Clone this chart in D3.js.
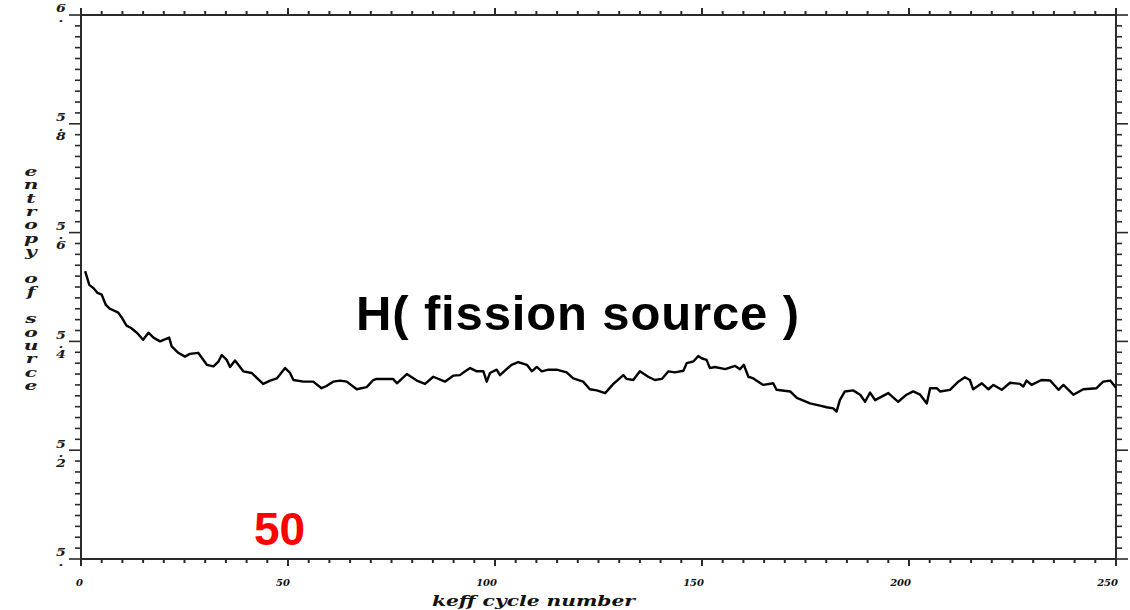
<!DOCTYPE html>
<html><head><meta charset="utf-8">
<script src="https://cdn.jsdelivr.net/npm/d3@7"></script>
<style>html,body{margin:0;padding:0;background:#fff;}</style>
</head><body>
<svg id="chart" width="1130" height="610"></svg>
<script>
// ---- data ----
const cycles = [1,2,3,4,5,6,7,9,10,11,12,13.5,15,16.3,17.5,19.1,21.3,21.9,23.5,25.1,26.3,28.3,30.4,32,33.2,34,35.2,36,37.2,39.2,41.2,44,45.7,47.3,49.3,50.5,51.3,53.7,56.1,58.1,59.3,60.9,62.6,64.2,66.6,69,70.6,71.4,75.4,76.3,78.7,81.1,83.1,85.1,87.9,89.9,91.5,92.8,94,95.6,97.2,98,98.8,100.4,101.2,102.8,104,105.6,107.7,108.9,110.1,111.3,112.9,114.9,117.3,118.9,121.3,122.9,124.6,126.6,128.6,131,131.8,133.4,135,137,138.6,140.3,141.9,143.5,145.5,146.3,147.9,149.1,149.9,151.1,151.9,153.1,155.6,158,159.2,160.1,161.2,162.4,164.8,167.2,168,171.3,172.9,176.1,178.5,180.1,181.7,182.5,183.3,184.5,186.5,188.2,189.4,190.6,191.8,195,197.4,199.4,201,202.7,204.3,205.1,206.7,207.5,209.9,211.9,213.5,214.7,215.5,217.6,219.2,220.4,222.4,224.4,226.8,227.6,228.4,229.6,232,234.1,236.1,237.3,239.7,242.1,245.3,246.9,248.6,250];
const entropy = [5.529,5.504,5.498,5.489,5.486,5.467,5.460,5.453,5.442,5.429,5.425,5.416,5.403,5.416,5.407,5.400,5.407,5.391,5.379,5.372,5.377,5.379,5.357,5.354,5.363,5.375,5.366,5.353,5.365,5.345,5.342,5.322,5.328,5.332,5.351,5.342,5.329,5.326,5.326,5.314,5.318,5.326,5.328,5.326,5.312,5.316,5.329,5.331,5.331,5.323,5.340,5.328,5.322,5.335,5.326,5.337,5.338,5.345,5.351,5.345,5.345,5.326,5.342,5.348,5.338,5.349,5.357,5.362,5.357,5.345,5.353,5.345,5.348,5.348,5.343,5.332,5.326,5.312,5.310,5.305,5.322,5.338,5.331,5.329,5.345,5.335,5.329,5.331,5.345,5.343,5.346,5.360,5.363,5.373,5.369,5.366,5.351,5.353,5.349,5.355,5.349,5.357,5.335,5.332,5.320,5.323,5.311,5.308,5.296,5.286,5.282,5.279,5.277,5.271,5.292,5.308,5.310,5.302,5.289,5.306,5.292,5.305,5.289,5.302,5.308,5.302,5.286,5.314,5.314,5.308,5.311,5.326,5.334,5.329,5.312,5.323,5.312,5.320,5.311,5.324,5.322,5.317,5.328,5.320,5.329,5.328,5.311,5.320,5.302,5.312,5.314,5.326,5.328,5.315];
const xTickLabels = ["0","50","100","150","200","250"];
const yTickLabels = ["5.","5.2","5.4","5.6","5.8","6."];
const yTickValues = [5,5.2,5.4,5.6,5.8,6];
const xTickValues = [0,50,100,150,200,250];
const yTitle = "entropy of source";
const xTitle = "keff cycle number";
const annotation = "H( fission source )";
const redLabel = "50";

// ---- layout ----
const L = 81, R = 1116, T = 15, B = 559;
const svg = d3.select("#chart");
const x = d3.scaleLinear().domain([0,250]).range([L,R]);
const y = d3.scaleLinear().domain([5,6]).range([B,T]);
const axisColor = "#2a2a2a";
const serif = "'DejaVu Serif', 'Liberation Serif', serif";

const xMinor = d3.range(0,251,5);
const yMinor = d3.range(0,51).map(i => 5 + i*0.02);
function isMajorX(v){ return Math.abs(v/50 - Math.round(v/50)) < 1e-6; }
function isMajorY(v){ return Math.abs((v-5)/0.2 - Math.round((v-5)/0.2)) < 1e-6; }

const g = svg.append("g");
g.append("rect").attr("x",L).attr("y",T).attr("width",R-L).attr("height",B-T)
  .attr("fill","none").attr("stroke",axisColor).attr("stroke-width",2);

g.selectAll(".bt").data(xMinor).enter().append("line")
  .attr("x1",d=>x(d)).attr("x2",d=>x(d)).attr("y1",B).attr("y2",d=>B+(isMajorX(d)?7:4))
  .attr("stroke",axisColor).attr("stroke-width",2);
g.selectAll(".tt").data(xMinor).enter().append("line")
  .attr("x1",d=>x(d)).attr("x2",d=>x(d)).attr("y1",T).attr("y2",d=>T-(isMajorX(d)?7:4))
  .attr("stroke",axisColor).attr("stroke-width",2);
g.selectAll(".lt").data(yMinor).enter().append("line")
  .attr("y1",d=>y(d)).attr("y2",d=>y(d)).attr("x1",L).attr("x2",d=>L-(isMajorY(d)?12:6))
  .attr("stroke",axisColor).attr("stroke-width",1.6);
g.selectAll(".rt").data(yMinor).enter().append("line")
  .attr("y1",d=>y(d)).attr("y2",d=>y(d)).attr("x1",R).attr("x2",d=>R+(isMajorY(d)?12:6))
  .attr("stroke",axisColor).attr("stroke-width",1.6);

g.selectAll(".xl").data(xTickValues).enter().append("text")
  .attr("x",d=>x(d)+2).attr("y",586)
  .attr("text-anchor","end")
  .attr("font-family",serif).attr("font-style","italic").attr("font-weight","bold")
  .attr("font-size",10).attr("fill","#111")
  .text((d,i)=>xTickLabels[i]);

// stacked vertical text: a single text element in upright vertical writing mode
function stacked(parent, str, cx, firstCenter, step, size, sx){
  const t = parent.append("text")
    .attr("transform",`translate(${cx},0) scale(${sx},1)`)
    .attr("x",0).attr("y",firstCenter)
    .style("writing-mode","vertical-rl").style("text-orientation","upright")
    .attr("font-family",serif).attr("font-style","italic").attr("font-weight","bold")
    .attr("font-size",size).attr("fill","#1a1a1a")
    .text(str);
  const n = t.node();
  if (str.length > 1) {
    const a0 = n.getStartPositionOfChar(0).y, a1 = n.getStartPositionOfChar(1).y;
    const adv = a1 - a0;
    t.style("letter-spacing", (step - adv) + "px");
  }
  const e = n.getExtentOfChar(0);
  const c = e.y + e.height/2;
  t.attr("y", firstCenter + (firstCenter - c));
  return t;
}

yTickValues.forEach((v,i) => stacked(g, yTickLabels[i], 61, y(v) - 8, 9.5, 10.5, 1.35));
stacked(g, yTitle, 31, 170, 13.4, 13.5, 1.5);

g.append("text")
  .attr("x",432).attr("y",606)
  .attr("textLength",203).attr("lengthAdjust","spacingAndGlyphs")
  .attr("font-family",serif).attr("font-style","italic").attr("font-weight","bold")
  .attr("font-size",14).attr("fill","#111")
  .text(xTitle);

const pts = cycles.map((c,i)=>[c, entropy[i]]);
g.append("path").datum(pts)
  .attr("fill","none").attr("stroke","#000").attr("stroke-width",2.4)
  .attr("stroke-linejoin","round")
  .attr("d", d3.line().x(d=>x(d[0])).y(d=>y(d[1])).curve(d3.curveLinear));

g.append("text").attr("x",356).attr("y",330)
  .attr("font-family","'Liberation Sans', Arial, sans-serif").attr("font-weight","bold")
  .attr("font-size",49).attr("fill","#000")
  .attr("textLength",443).attr("lengthAdjust","spacing")
  .text(annotation);
g.append("text").attr("x",254).attr("y",545)
  .attr("font-family","'Liberation Sans', Arial, sans-serif").attr("font-weight","bold")
  .attr("font-size",46).attr("fill","#ff0000")
  .text(redLabel);
</script>
</body></html>
